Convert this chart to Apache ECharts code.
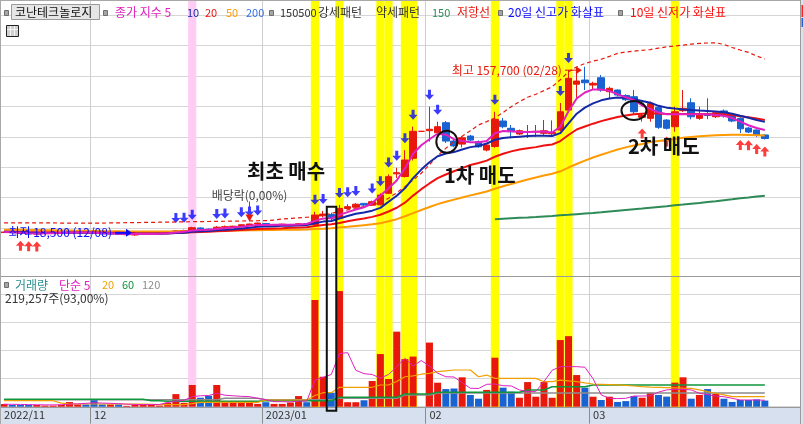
<!DOCTYPE html>
<html>
<head>
<meta charset="utf-8">
<title>코난테크놀로지</title>
<script src="https://cdn.jsdelivr.net/npm/echarts@6.0.0/dist/echarts.min.js"></script>
<style>
  html, body { margin: 0; padding: 0; background: #fff; }
  #chart { width: 803px; height: 424px; }
</style>
</head>
<body>
<div id="chart"></div>
<script>
// ===== 데이터 =====
var dates = [
  '11/16','11/17','11/18','11/21','11/22','11/23','11/24','11/25','11/28','11/29','11/30',
  '12/01','12/02','12/05','12/06','12/07','12/08','12/09','12/12','12/13','12/14','12/15','12/16','12/19','12/20','12/21','12/22','12/23','12/26','12/27','12/28','12/29',
  '01/02','01/03','01/04','01/05','01/06','01/09','01/10','01/11','01/12','01/13','01/16','01/17','01/18','01/19','01/20','01/25','01/26','01/27','01/30','01/31',
  '02/01','02/02','02/03','02/06','02/07','02/08','02/09','02/10','02/13','02/14','02/15','02/16','02/17','02/20','02/21','02/22','02/23','02/24','02/27','02/28',
  '03/02','03/03','03/06','03/07','03/08','03/09','03/10','03/13','03/14','03/15','03/16','03/17','03/20','03/21','03/22','03/23','03/24','03/27','03/28','03/29','03/30','03/31'
];
var tickLabels = { '11/16': '2022/11', '12/01': '12', '01/02': '2023/01', '02/01': '02', '03/02': '03' };

var openP = [21200,21600,21000,20400,19900,20300,20600,20900,21000,21400,
  21700,21200,20600,20000,20300,19400,19200,19800,20100,20400,
  20600,21200,22500,22900,25000,24000,23600,25600,26000,26400,
  27400,28200,28600,27400,27700,27300,27800,28400,27900,35000,
  36000,32900,41000,42000,45200,43700,44000,53500,69500,67300,
  82300,104500,105000,103300,111600,96500,94000,100600,96000,89100,
  92000,113000,107000,102300,104000,104000,102900,102500,105600,122000,
  143300,146700,142600,148600,137100,138500,134000,133000,116000,115200,
  124300,113800,108300,121500,128000,115200,119000,116500,121300,117900,
  115200,107200,105600,101500];
var closeP = [21600,21000,20400,19900,20300,20700,21000,21100,21600,21700,
  21200,20600,20100,20300,19600,19600,19800,20200,20400,20600,
  21200,22600,22900,25200,24000,23500,25600,26000,26400,27600,
  28200,29000,27400,27800,28100,27800,28400,27900,35600,36400,
  33000,41100,42500,44500,43800,46600,52100,67200,70500,80900,
  104500,104500,106200,108300,96500,92500,99200,97300,91800,93200,
  114400,108300,104200,105000,104400,104500,105000,103500,120600,148100,
  145900,144500,144000,138500,139900,134400,130500,120600,117500,127500,
  107800,107000,120600,123400,116500,118000,117500,119800,117200,113000,
  106600,103900,101500,98600];
var lowP = [20900,20800,20200,19700,19500,20100,20400,20600,20800,21200,
  21000,20400,19900,19700,19400,19000,18500,19600,19900,20200,
  20400,21000,22100,22700,23600,23000,23400,25200,25600,26200,
  27000,27800,27000,26800,27300,27000,27500,27600,27600,33800,
  31500,32500,40200,41500,43000,43200,43700,53000,66000,66500,
  80500,104500,96000,102000,95000,91500,91300,96500,91000,88000,
  91000,107000,98800,101500,99000,100000,101500,100000,104500,120600,
  132000,138500,138500,137100,131700,133500,129500,118500,112500,112400,
  106500,106000,104200,120500,114400,114000,114500,115500,115800,112000,
  103100,103000,99800,97800];
var highP = [21900,21800,21100,20600,20500,20900,21300,21400,21900,22000,
  21900,21400,20800,20500,20400,19800,19900,20400,20600,20900,
  21400,23200,23600,26000,25400,24500,26500,27000,26800,28000,
  28600,29400,28900,28200,28500,28300,28800,28900,38300,39000,
  37500,43900,44500,45500,45400,47500,53500,69000,74500,89000,
  108300,104500,124800,112400,113000,97500,100500,101500,97000,94000,
  120600,115500,109700,106000,109700,109700,113800,113500,127800,155000,
  155000,157700,145300,150800,141200,139000,135000,138500,119500,129000,
  125500,114500,124800,138500,131700,124800,131700,121000,122500,118500,
  116000,108000,106000,102000];
var volume = [95000,60000,60000,60000,60000,40000,40000,60000,165000,80000,
  80000,240000,80000,80000,80000,30000,60000,60000,60000,40000,
  140000,450000,140000,775000,320000,390000,775000,160000,160000,160000,
  160000,100000,160000,100000,100000,150000,380000,160000,3810000,1070000,
  500000,4130000,160000,160000,230000,918000,1880000,990000,2680000,1700000,
  1790000,0,2290000,857000,630000,650000,1050000,420000,285000,600000,
  1750000,680000,535000,320000,880000,357000,880000,320000,2380000,2520000,
  1130000,680000,357000,240000,357000,170000,200000,380000,320000,500000,
  420000,360000,860000,1050000,285000,420000,630000,460000,285000,170000,
  240000,240000,260000,219257];

// 종가 지수이동평균 5 / 10 / 20 / 50
var ema5 = [21700,21500,21100,20700,20500,20600,20700,20900,21100,21300,
  21300,21000,20700,20600,20200,20000,19900,20000,20100,20300,
  20600,21300,21800,22900,23300,23400,24100,24700,25300,26000,
  26800,27500,27500,27600,27700,27600,27900,28200,30800,32700,
  33000,35700,38000,40200,42000,45500,51500,57600,64000,74000,
  86000,93000,98000,102500,101700,98000,96500,95500,95500,96500,
  102900,104800,104600,104000,104000,104200,104400,103500,108300,121000,
  131500,136500,139000,139000,137800,135000,132500,130300,125800,123000,
  120000,118600,118500,118500,118500,118500,118500,118000,117300,115500,
  112500,109500,107200,105600];
var ema10 = [21800,21700,21500,21200,21000,20900,20900,20900,21000,21100,
  21100,21000,20800,20700,20500,20300,20200,20200,20200,20300,
  20400,20800,21100,21800,22200,22500,23000,23500,24000,24600,
  25200,25900,26200,26400,26700,26800,27100,27300,28800,30200,
  30700,32700,34800,36600,37700,39200,41500,46500,51500,57600,
  66000,73000,79000,84000,86300,87400,89500,91500,92500,94500,
  97500,99000,99600,100100,100600,100800,100900,100700,103000,111000,
  119000,124000,127500,130000,131500,132300,132000,131000,129500,128000,
  125500,124000,123200,122500,122000,121600,121300,120900,120300,119000,
  117300,115700,113800,112300];
var ema20 = [21900,21850,21750,21600,21500,21400,21350,21300,21300,21300,
  21300,21250,21150,21050,20950,20850,20750,20700,20650,20650,
  20700,20850,21000,21400,21650,21900,22200,22500,22900,23300,
  23700,24100,24300,24600,24800,25100,25300,25500,26500,27400,
  28000,29000,30500,31800,32800,34100,35800,38500,41600,45800,
  51600,56900,61600,66000,69000,71600,74200,76800,78500,80400,
  83600,86000,88000,89500,90600,91500,92800,93700,96500,101500,
  106000,108500,110800,112900,114600,116300,117500,118500,119000,119300,
  119100,118800,118700,118800,118800,118700,118600,118600,118500,118000,
  117000,116000,115000,113800];
var ema50 = [23600,23500,23400,23300,23200,23100,23000,22900,22800,22700,
  22600,22500,22400,22300,22200,22100,22000,22000,22000,22000,
  22000,22100,22200,22300,22400,22500,22600,22700,22800,22900,
  23000,23100,23200,23300,23400,23500,23600,23700,24100,24400,
  24700,25300,25900,26600,27300,28000,28900,30500,32200,34600,
  37200,39800,42200,44600,46500,48300,50100,51800,53400,55000,
  57300,59300,61200,63000,64800,66500,68100,69600,71600,74700,
  77600,80400,83000,85200,87400,89500,91300,92800,94100,95700,
  96500,97300,98200,99200,99900,100500,100900,101300,101500,101600,
  101600,101500,101300,101100];
// 저항선 (빨간 점선)
var resist = [29200,29200,29200,29100,29100,29100,29100,29000,29000,29000,
  29000,29000,29000,29100,29200,29300,29400,29500,29600,29700,
  29800,29900,30000,30100,30200,30300,30400,30500,30600,30700,
  30800,30900,31000,31500,32300,32800,33300,33800,34300,35500,
  37000,38500,39800,41000,42500,44000,45500,49500,54000,59000,
  64400,70000,77000,84500,90500,96000,100500,105000,109700,112500,
  115500,120000,124800,128900,132500,135000,138000,141200,147000,153500,
  157500,160300,162300,163800,166200,168700,169800,170500,171200,171800,
  173000,174000,174800,175500,176200,176900,177200,177400,176000,173500,
  171400,169500,166500,164000];
// 150선 (idx 60 부터)
var ma150Start = 60;
var ma150 = [32100,32500,32900,33300,33600,34000,34500,34900,35400,35800,
  36300,36800,37300,37900,38600,39200,39800,40400,41000,41700,
  42300,42900,43600,44200,44900,45500,46300,47000,47800,48600,
  49500,50100,50800,51400];

// 거래량 단순이동평균 5 / 20 / 60 / 120
var vma5 = [90000,85000,80000,75000,70000,65000,65000,70000,95000,100000,
  120000,140000,130000,120000,110000,90000,80000,75000,80000,80000,
  150000,200000,230000,360000,390000,400000,480000,410000,390000,370000,
  360000,300000,250000,180000,180000,170000,200000,200000,950000,1050000,
  1150000,1900000,1930000,1300000,1180000,1150000,1020000,1150000,1430000,1730000,
  1450000,1650000,1450000,1200000,1070000,1060000,860000,660000,650000,800000,
  810000,750000,740000,600000,540000,540000,900000,1300000,1430000,1430000,
  1430000,1410000,1000000,420000,300000,290000,300000,380000,380000,390000,
  520000,600000,620000,620000,600000,480000,430000,380000,357000,300000,
  240000,240000,240000,230000];
var vma20 = [214000,214000,214000,214000,214000,214000,214000,130000,100000,96000,
  96000,96000,96000,96000,96000,96000,96000,96000,85000,71000,
  71000,71000,71000,110000,157000,157000,157000,157000,157000,157000,
  157000,157000,240000,240000,240000,240000,240000,240000,400000,500000,
  500000,693000,693000,693000,693000,693000,775000,775000,900000,1070000,
  1100000,1160000,1190000,1250000,1280000,1310000,1310000,1310000,1070000,1130000,
  1010000,1010000,1010000,1010000,1010000,1010000,893000,893000,950000,920000,
  893000,850000,810000,800000,790000,780000,760000,740000,714000,700000,
  690000,680000,670000,660000,657000,600000,536000,480000,420000,360000,
  357000,357000,357000,357000];
var vma60 = [264000,264000,264000,264000,264000,264000,264000,264000,264000,264000,
  264000,264000,264000,264000,264000,264000,264000,264000,214000,214000,
  193000,193000,193000,193000,193000,193000,193000,193000,193000,193000,
  193000,193000,214000,214000,214000,214000,214000,214000,214000,214000,
  214000,336000,336000,336000,336000,336000,336000,336000,336000,454000,
  454000,454000,454000,514000,514000,514000,514000,514000,514000,514000,
  514000,514000,514000,514000,596000,596000,596000,714000,714000,714000,
  714000,714000,775000,775000,775000,775000,775000,775000,775000,775000,
  775000,775000,775000,775000,775000,775000,775000,775000,775000,775000,
  775000,775000,775000,775000];
var vma120 = [250000,250000,250000,250000,250000,250000,250000,250000,250000,250000,
  250000,250000,250000,250000,250000,250000,250000,250000,250000,250000,
  250000,250000,250000,250000,250000,250000,250000,300000,300000,300000,
  300000,300000,245000,245000,245000,245000,245000,245000,245000,245000,
  245000,300000,300000,300000,300000,300000,300000,300000,300000,418000,
  418000,418000,418000,490000,490000,490000,490000,490000,490000,490000,
  490000,490000,490000,490000,490000,490000,490000,490000,490000,490000,
  490000,490000,490000,490000,490000,490000,490000,490000,490000,490000,
  490000,490000,490000,490000,490000,490000,490000,490000,490000,490000,
  490000,490000,490000,490000];

// 강세패턴(노랑) / 약세패턴(분홍) 캔들 위치
var yellowBands = [38, 41, 46, 47, 49, 50, 60, 68, 69, 82];
var pinkBands = [23];
// 20일 신고가 / 10일 신저가 화살표
var newHighIdx = [21,22,23,26,27,29,30,31,38,39,41,42,43,45,46,47,48,49,50,52,53,60,68,69];
var newLowIdx = [2,3,4,78,81,90,91,92,93];
// 배당락, 매수/매도 표시
var exDivIdx = 30;
var buyIdx = 40;
var sell1 = [54, 96000];
var sell2 = [77, 121600];

// ===== 공통 설정 =====
var UP = '#e8180c', DOWN = '#1862d2';
var FONT = '"Noto Sans CJK KR", sans-serif';
var cats = dates.concat(['+1', '+2', '+3', '+4']);   // 오른쪽 여백
var catW = 8.18;
var plotW = cats.length * catW;

function isMonthStart(i) { return tickLabels.hasOwnProperty(cats[i]); }
function fmt(n) { return String(n).replace(/\B(?=(\d{3})+(?!\d))/g, ','); }

var candleData = dates.map(function (d, i) { return [openP[i], closeP[i], lowP[i], highP[i]]; });
var volData = volume.map(function (v, i) {
    return { value: v, itemStyle: { color: closeP[i] >= openP[i] ? UP : DOWN } };
});
var bandData = cats.map(function (c, i) {
    if (yellowBands.indexOf(i) >= 0) return { value: 1, itemStyle: { color: '#ffff00' } };
    if (pinkBands.indexOf(i) >= 0) return { value: 1, itemStyle: { color: '#ffccf4' } };
    return '-';
});
var ma150Data = dates.map(function (d, i) { return i < ma150Start ? '-' : ma150[i - ma150Start]; });

function line(name, data, color, width, gi, dash) {
    return {
        name: name, type: 'line', xAxisIndex: gi, yAxisIndex: gi, data: data,
        symbol: 'none', silent: true,
        lineStyle: { color: color, width: width, type: dash || 'solid' }
    };
}

var hideAxis = { axisLine: { show: false }, axisTick: { show: false }, axisLabel: { show: false } };

var chart = echarts.init(document.getElementById('chart'));
var option = {
    animation: false,
    backgroundColor: '#ffffff',
    textStyle: { fontFamily: FONT },
    grid: [
        { left: 0, top: 15.3, width: plotW, height: 243 },    // 가격
        { left: 0, top: 276, width: plotW, height: 130.7 },   // 거래량
        { left: 0, top: 0, width: plotW, height: 407 }        // 패턴 배경 + 월 구분선
    ],
    xAxis: [
        Object.assign({ type: 'category', gridIndex: 0, data: cats, splitLine: { show: false } }, hideAxis),
        {
            type: 'category', gridIndex: 1, data: cats,
            axisLine: { show: false },
            axisTick: { show: true, length: 17, interval: function (i) { return isMonthStart(i); }, lineStyle: { color: '#8c8c8c' } },
            axisLabel: {
                show: true, interval: function (i) { return isMonthStart(i); },
                formatter: function (v) { return tickLabels[v] || ''; },
                align: 'left', margin: 3, color: '#333', fontSize: 11, fontFamily: FONT
            },
            splitLine: { show: false }
        },
        Object.assign({
            type: 'category', gridIndex: 2, data: cats,
            splitLine: { show: true, interval: function (i) { return isMonthStart(i); }, lineStyle: { color: '#cfcfcf', width: 1 } }
        }, hideAxis)
    ],
    yAxis: [
        Object.assign({ type: 'value', gridIndex: 0, min: 0, max: 200000, interval: 25000,
            splitLine: { show: true, lineStyle: { color: '#d6d6d6' } } }, hideAxis),
        Object.assign({ type: 'value', gridIndex: 1, min: 0, max: 4668000, interval: 1000000,
            splitLine: { show: true, lineStyle: { color: '#d6d6d6' } } }, hideAxis),
        Object.assign({ type: 'value', gridIndex: 2, min: 0, max: 1, show: false }, hideAxis)
    ],
    series: [
        { type: 'bar', xAxisIndex: 2, yAxisIndex: 2, data: bandData, barWidth: '100%', barGap: 0, silent: true },
        line('저항선', resist, '#e8180c', 1.2, 0, [4, 3]),
        line('150', ma150Data, '#2e8b57', 2, 0),
        line('50', ema50, '#ff9a00', 2, 0),
        line('20', ema20, '#f01010', 2, 0),
        line('10', ema10, '#1428a8', 2, 0),
        line('5', ema5, '#e020c0', 2, 0),
        {
            type: 'candlestick', xAxisIndex: 0, yAxisIndex: 0, data: candleData, barWidth: 7, silent: true,
            itemStyle: { color: UP, color0: DOWN, borderColor: UP, borderColor0: DOWN, borderColorDoji: UP, borderWidth: 1 }
        },
        {
            type: 'scatter', xAxisIndex: 0, yAxisIndex: 0, silent: true,
            data: newHighIdx.map(function (i) { return [i, highP[i]]; }),
            symbol: 'path://M3,0 L6,0 L6,5 L9,5 L4.5,10 L0,5 L3,5 Z',
            symbolSize: [9, 10], symbolOffset: [0, -12], itemStyle: { color: '#0a0aff' }
        },
        {
            type: 'scatter', xAxisIndex: 0, yAxisIndex: 0, silent: true,
            data: newLowIdx.map(function (i) { return [i, lowP[i]]; }),
            symbol: 'path://M4.5,0 L9,5 L6,5 L6,10 L3,10 L3,5 L0,5 Z',
            symbolSize: [9, 10], symbolOffset: [0, 12], itemStyle: { color: '#ff0a0a' }
        },
        { type: 'bar', xAxisIndex: 1, yAxisIndex: 1, data: volData, barWidth: 7, silent: true },
        line('v120', vma120, '#8c8c8c', 1.5, 1),
        line('v60', vma60, '#10963c', 1.5, 1),
        line('v20', vma20, '#f0a000', 1.2, 1),
        line('v5', vma5, '#e020c0', 1, 1)
    ]
};
chart.setOption(option);

// ===== 그림 요소 (머리글, 테두리, 주석) =====
function txt(x, y, s, color, opt) {
    opt = opt || {};
    return { type: 'text', z: 100, silent: true, style: {
        text: s, x: x, y: y, fill: color, align: opt.align || 'left', verticalAlign: 'middle',
        font: (opt.weight || 'normal') + ' ' + (opt.size || 12) + 'px ' + FONT } };
}
function box(x, y, w, h, fill, stroke, z) {
    return { type: 'rect', z: z == null ? 100 : z, silent: true, shape: { x: x, y: y, width: w, height: h },
        style: { fill: fill, stroke: stroke || null, lineWidth: 1 } };
}
function seg(x1, y1, x2, y2, color, w, z) {
    return { type: 'line', z: z == null ? 50 : z, silent: true, shape: { x1: x1, y1: y1, x2: x2, y2: y2 },
        style: { stroke: color, lineWidth: w || 1 } };
}
function px(gi, i, v) { return chart.convertToPixel({ gridIndex: gi }, [i, v]); }

var g = [];
// 아래 날짜 영역, 테두리
g.push(box(0, 407, 803, 17, '#d6e0ee', null, -1));
g.push(seg(0, 407.5, 800, 407.5, '#9a9a9a', 1));
g.push(seg(0, 276.5, 800, 276.5, '#9a9a9a', 1));
g.push(seg(0, 0.5, 800, 0.5, '#a8a8a8', 1));
g.push(seg(0.5, 0, 0.5, 424, '#a8a8a8', 1));
g.push(box(800.5, 0, 3, 424, '#dbe3ee', null, 60));
g.push(seg(800.5, 0, 800.5, 424, '#9a9a9a', 1, 61));
g.push(box(801.5, 5, 2, 12, '#ff2020', null, 62));
g.push(box(801.5, 18, 2, 9, '#2060e0', null, 62));

// 머리글
g.push(box(4.5, 10.5, 4, 5, '#a6a6a6', '#6e6e6e'));
g.push(box(11.5, 4.5, 88, 15, '#e6e6e6', '#9a9a9a'));
g.push(txt(15, 12.5, '코난테크놀로지', '#111'));
g.push(box(6.5, 25.5, 12, 11, '#d0d0d0', '#222'));
g.push(seg(7, 29.5, 18, 29.5, '#f4f4f4', 1, 101));
g.push(seg(10.5, 26, 10.5, 36, '#f4f4f4', 1, 101));
g.push(seg(14.5, 26, 14.5, 36, '#f4f4f4', 1, 101));
g.push(box(103.5, 10.5, 4, 5, '#a6a6a6', '#6e6e6e'));
g.push(txt(115, 12.5, '종가 지수 5', '#e020c0'));
g.push(txt(187, 12.5, '10', '#1428a8', { size: 11 }));
g.push(txt(205, 12.5, '20', '#f01010', { size: 11 }));
g.push(txt(226, 12.5, '50', '#ff9a00', { size: 11 }));
g.push(txt(246, 12.5, '200', '#2f6ef0', { size: 11 }));
g.push(box(269.5, 10.5, 4, 5, '#a6a6a6', '#6e6e6e'));
g.push(txt(280, 12.5, '150500', '#333', { size: 11 }));
g.push(txt(318, 12.5, '강세패턴', '#333'));
g.push(txt(376, 12.5, '약세패턴', '#333'));
g.push(txt(432, 12.5, '150', '#2e8b57', { size: 11 }));
g.push(txt(457, 12.5, '저항선', '#e8180c'));
g.push(box(498.5, 10.5, 4, 5, '#a6a6a6', '#6e6e6e'));
g.push(txt(508, 12.5, '20일 신고가 화살표', '#0a0aff'));
g.push(box(618.5, 10.5, 4, 5, '#a6a6a6', '#6e6e6e'));
g.push(txt(630, 12.5, '10일 신저가 화살표', '#ff0a0a'));

// 거래량 범례
g.push(box(4.5, 282.5, 4, 5, '#a6a6a6', '#6e6e6e'));
g.push(txt(15, 285, '거래량', '#2a9090'));
g.push(txt(59, 285, '단순 5', '#e020c0'));
g.push(txt(102, 285, '20', '#f0a000', { size: 11 }));
g.push(txt(122, 285, '60', '#10963c', { size: 11 }));
g.push(txt(142, 285, '120', '#8c8c8c', { size: 11 }));
g.push(txt(5, 298.5, fmt(volume[volume.length - 1]) + '주(93,00%)', '#333'));

// 최고 / 최저 표시
var hiIdx = highP.indexOf(Math.max.apply(null, highP));
var loIdx = lowP.indexOf(Math.min.apply(null, lowP));
var ph = px(0, hiIdx, highP[hiIdx]);
var hx = ph[0] - 3, hy = ph[1] + 3.5;
g.push({ type: 'polygon', z: 90, silent: true, shape: { points: [[hx, hy], [hx - 6, hy - 4], [hx - 6, hy + 4]] }, style: { fill: '#e8180c' } });
g.push(seg(hx - 17, hy, hx - 5, hy, '#e8180c', 1, 90));
g.push(txt(hx - 20, hy, '최고 ' + fmt(highP[hiIdx]) + ' (' + dates[hiIdx] + ')', '#e8180c', { align: 'right' }));
var pl = px(0, loIdx, lowP[loIdx]);
var lx = pl[0] - 3, ly = pl[1] - 3;
g.push({ type: 'polygon', z: 90, silent: true, shape: { points: [[lx, ly], [lx - 6, ly - 4], [lx - 6, ly + 4]] }, style: { fill: '#0a0aff' } });
g.push(seg(lx - 17, ly, lx - 5, ly, '#0a0aff', 2, 90));
g.push(txt(lx - 20, ly, '최저 ' + fmt(lowP[loIdx]) + ' (' + dates[loIdx] + ')', '#0a0aff', { align: 'right' }));

// 배당락
var pd = px(0, exDivIdx, highP[exDivIdx]);
g.push({ type: 'polygon', z: 90, silent: true, shape: { points: [[pd[0] - 4, pd[1] - 9], [pd[0] + 4, pd[1] - 9], [pd[0], pd[1] - 2]] }, style: { fill: '#e8180c' } });
g.push(seg(pd[0], pd[1] - 22, pd[0], pd[1] - 9, '#e8180c', 1, 90));
g.push(txt(pd[0], pd[1] - 28.5, '배당락(0,00%)', '#444', { align: 'center' }));

// 매수 / 매도 표시
var c1 = px(0, sell1[0], sell1[1]);
g.push({ type: 'ellipse', z: 95, silent: true, shape: { cx: c1[0] + 1, cy: c1[1], rx: 10.5, ry: 11 }, style: { fill: null, stroke: '#111', lineWidth: 2 } });
var c2 = px(0, sell2[0], sell2[1]);
g.push({ type: 'ellipse', z: 95, silent: true, shape: { cx: c2[0], cy: c2[1], rx: 12.5, ry: 9.5 }, style: { fill: null, stroke: '#111', lineWidth: 2 } });
var rTop = px(0, buyIdx, 42500);
var rBot = px(1, buyIdx, 0);
g.push({ type: 'rect', z: 95, silent: true, shape: { x: rTop[0] - 4.5, y: rTop[1], width: 9.5, height: rBot[1] + 4 - rTop[1] }, style: { fill: null, stroke: '#111', lineWidth: 2 } });
g.push(txt(247, 171, '최초 매수', '#111', { size: 20, weight: 'bold' }));
g.push(txt(444, 175, '1차 매도', '#111', { size: 20, weight: 'bold' }));
g.push(txt(628, 146, '2차 매도', '#111', { size: 20, weight: 'bold' }));

chart.setOption({ graphic: g });

window.addEventListener('resize', function () { chart.resize(); });
</script>
</body>
</html>
